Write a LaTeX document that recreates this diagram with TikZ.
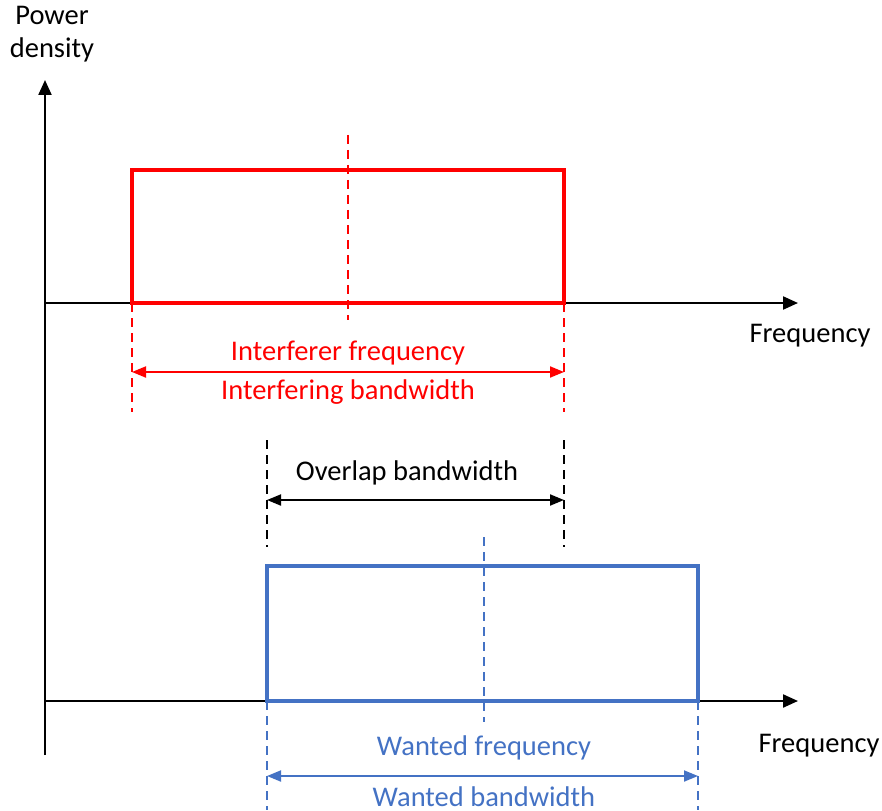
\documentclass[tikz,border=0pt]{standalone}
\usepackage{fontspec}
\setmainfont{Carlito}
\usetikzlibrary{arrows.meta}
\definecolor{wblue}{RGB}{68,114,196}
\definecolor{ired}{RGB}{255,0,0}
\begin{document}
\begin{tikzpicture}[x=1pt,y=-1pt,
  axis/.style={line width=2.2pt,-{Triangle[length=15pt,width=13pt]}},
  dimarrow/.style={line width=1.9pt,{Triangle[length=14pt,width=11pt]}-{Triangle[length=14pt,width=11pt]}},
  guide/.style={line width=1.6pt,dash pattern=on 9pt off 6pt},
  band/.style={draw,line width=3.4pt,inner sep=0pt,outer sep=0pt},
  lbl/.style={font=\fontsize{28.5}{33}\selectfont,inner sep=0pt}]
\useasboundingbox (0,0) rectangle (882,810);
% axes
\coordinate (ybot) at (45,755);
\coordinate (ytop) at (45,80);
\coordinate (x1s) at (45,303);
\coordinate (x1e) at (798,303);
\coordinate (x2s) at (45,701);
\coordinate (x2e) at (798,701);
\draw[axis] (ybot) -- (ytop);
\draw[axis] (x1s) -- (x1e);
\draw[axis] (x2s) -- (x2e);
\node[lbl,align=center] (pd) at (52,34) {Power\\density};
\node[lbl] (f1) at (810,336) {Frequency};
\node[lbl] (f2) at (819,746) {Frequency};
% interferer
\node[band,ired,minimum width=432pt,minimum height=133pt] (ibox) at (348,236.5) {};
\coordinate (ic1) at (348,135);
\coordinate (ic2) at (348,320);
\draw[guide,ired] (ic1) -- (ic2);
\coordinate (il) at (132,412);
\coordinate (ir) at (564,412);
\draw[guide,ired] (ibox.south west) -- (il);
\draw[guide,ired] (ibox.south east) -- (ir);
\coordinate (ia1) at (132,372);
\coordinate (ia2) at (564,372);
\draw[dimarrow,ired] (ia1) -- (ia2);
\node[lbl,text=ired] (ifq) at (348,353) {Interferer frequency};
\node[lbl,text=ired] (ibw) at (348,392) {Interfering bandwidth};
% overlap
\coordinate (ol1) at (267,440);
\coordinate (ol2) at (267,547);
\coordinate (or1) at (564,440);
\coordinate (or2) at (564,547);
\draw[guide] (ol1) -- (ol2);
\draw[guide] (or1) -- (or2);
\coordinate (oa1) at (267,500);
\coordinate (oa2) at (564,500);
\draw[dimarrow] (oa1) -- (oa2);
\node[lbl] (obw) at (407,473) {Overlap bandwidth};
% wanted
\node[band,wblue,minimum width=431pt,minimum height=135pt] (wbox) at (482.5,633.5) {};
\coordinate (wc1) at (484,537);
\coordinate (wc2) at (484,722);
\draw[guide,wblue] (wc1) -- (wc2);
\coordinate (wl) at (267,810);
\coordinate (wr) at (698,810);
\draw[guide,wblue] (wbox.south west) -- (wl);
\draw[guide,wblue] (wbox.south east) -- (wr);
\coordinate (wa1) at (267,776);
\coordinate (wa2) at (698,776);
\draw[dimarrow,wblue] (wa1) -- (wa2);
\node[lbl,text=wblue] (wfq) at (484,748) {Wanted frequency};
\node[lbl,text=wblue] (wbw) at (484,797) {Wanted bandwidth};
\end{tikzpicture}
\end{document}
